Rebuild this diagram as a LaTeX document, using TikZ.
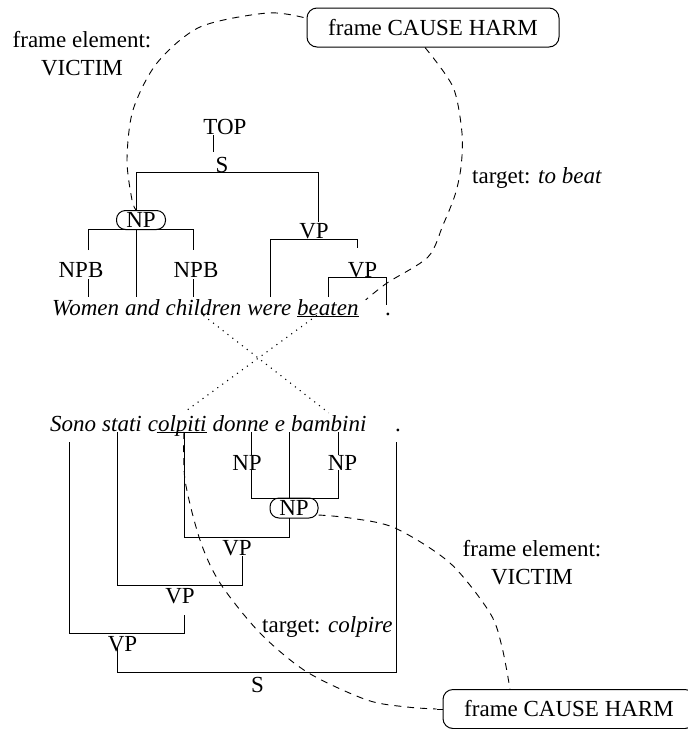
\documentclass[tikz,border=0pt]{standalone}
\usepackage{fontspec}
\setmainfont{Liberation Serif}
\usetikzlibrary{calc}
\newcommand{\fs}{\fontsize{23}{28}\selectfont}
\begin{document}
\begin{tikzpicture}[x=1pt,y=-1pt,
  every node/.style={font=\fs, inner sep=0pt},
  tree/.style={line width=1pt},
  framebox/.style={draw, line width=1pt, rounded corners=10pt, minimum width=252pt, minimum height=39pt},
  npbox/.style={draw, line width=1pt, rounded corners=9pt, minimum width=49pt, minimum height=19pt},
  word/.style={anchor=base west, font=\fs\itshape},
  dashline/.style={line width=0.9pt, dash pattern=on 7pt off 6pt},
  dotline/.style={line width=1.1pt, dash pattern=on 1.1pt off 5pt}]
\useasboundingbox (0,0) rectangle (688,729);

% frames and labels
\node[framebox] (f1) at (433,27.5) {frame CAUSE HARM};
\node[framebox] (f2) at (569,709) {frame CAUSE HARM};
\node[align=center] (fe1) at (82,54) {frame element:\\VICTIM};
\node[align=center] (fe2) at (532,563) {frame element:\\VICTIM};
\node[anchor=base west] (tg1) at (472,183) {target: \textit{to beat}};
\node[anchor=base west] (tg2) at (262,632) {target: \textit{colpire}};

% English tree
\node (top) at (225,127) {TOP};
\node (s1) at (222,165) {S};
\node[npbox] (np1) at (141,220) {NP};
\node (npb1) at (81,270) {NPB};
\node (npb2) at (196,270) {NPB};
\node (vp1) at (314,231) {VP};
\node (vp2) at (362.5,270) {VP};

\node[word] (w1) at (52,315) {Women};
\node[word] (w2) at ([xshift=5.6pt]w1.base east) {and};
\node[word] (w3) at ([xshift=5.6pt]w2.base east) {children};
\node[word] (w4) at ([xshift=5.6pt]w3.base east) {were};
\node[word] (w5) at ([xshift=5.6pt]w4.base east) {beaten};
\node[anchor=base] (p1) at (388,315) {.};
\draw[tree] ([yshift=-1pt]w5.base west) -- ([yshift=-1pt]w5.base east);

\draw[tree] (213,135) -- (213,152);
\draw[tree] (136,211) -- (136,172) -- (318,172) -- (318,222);
\draw[tree] (88,250) -- (88,229) -- (193,229) -- (193,250);
\draw[tree] (136,229) -- (136,297);
\draw[tree] (88,279) -- (88,297);
\draw[tree] (193,279) -- (193,297);
\draw[tree] (270,297) -- (270,239) -- (357,239) -- (357,248);
\draw[tree] (328,297) -- (328,277) -- (386,277) -- (386,305);

% Italian tree
\node[word] (i1) at (50,431) {Sono};
\node[word] (i2) at ([xshift=5.6pt]i1.base east) {stati};
\node[word] (i3) at ([xshift=5.6pt]i2.base east) {colpiti};
\node[word] (i4) at ([xshift=5.6pt]i3.base east) {donne};
\node[word] (i5) at ([xshift=5.6pt]i4.base east) {e};
\node[word] (i6) at ([xshift=5.6pt]i5.base east) {bambini};
\node[anchor=base] (p2) at (398,431) {.};
\draw[tree] ([xshift=9pt,yshift=-1pt]i3.base west) -- ([yshift=-1pt]i3.base east);

\node (np3) at (247,462.5) {NP};
\node (np4) at (342.5,462.5) {NP};
\node[npbox, minimum width=48pt, minimum height=20pt] (np2) at (294,508) {NP};
\node (vp3) at (237,548) {VP};
\node (vp4) at (180,596) {VP};
\node (vp5) at (122.5,644.5) {VP};
\node (s2) at (257.5,684.5) {S};

\draw[tree] (69,442) -- (69,633) -- (184,633) -- (184,615);
\draw[tree] (117,432) -- (117,585) -- (242,585) -- (242,556);
\draw[tree] (184,432) -- (184,537) -- (289,537) -- (289,518);
\draw[tree] (289,432) -- (289,498);
\draw[tree] (251,432) -- (251,455);
\draw[tree] (338,432) -- (338,455);
\draw[tree] (251,470) -- (251,498) -- (338,498) -- (338,470);
\draw[tree] (117,648) -- (117,672) -- (396,672) -- (396,442);

% alignment links
\draw[dotline] (w3.south) -- ([yshift=2pt]i6.north);
\draw[dotline] ($(w5.south west)!0.32!(w5.south east)$) -- ($([yshift=4pt]i3.north west)!0.65!([yshift=4pt]i3.north east)$);

% frame links
\coordinate (a0) at ([xshift=-3pt,yshift=10pt]f1.west);
\coordinate (a1) at ([xshift=-5pt]np1.north);
\draw[dashline] plot[smooth] coordinates {(a0) (267,13) (200,27) (157,63) (133,110) (127,160) (132,200) (a1)};

\coordinate (b0) at ([xshift=-8pt]f1.south);
\coordinate (b1) at ([xshift=7pt,yshift=-1pt]w5.north east);
\draw[dashline] plot[smooth] coordinates {(b0) (453,87) (462,133) (461,167) (455,195) (443,225) (428,257) (387,283) (b1)};

\coordinate (c0) at (184,432);
\coordinate (c1) at ([xshift=-6pt]f2.west);
\draw[dashline] plot[smooth] coordinates {(c0) (185,480) (200,540) (220,583) (260,633) (307,672) (367,700) (407,707) (c1)};
\draw[line width=1pt] (c1) -- (f2.west);

\coordinate (d0) at ([yshift=-7pt]np2.east);
\coordinate (d1) at ([xshift=-59pt]f2.north);
\draw[dashline] plot[smooth] coordinates {(d0) (350,518) (395,528) (450,563) (490,613) (502,647) (d1)};
\end{tikzpicture}
\end{document}
